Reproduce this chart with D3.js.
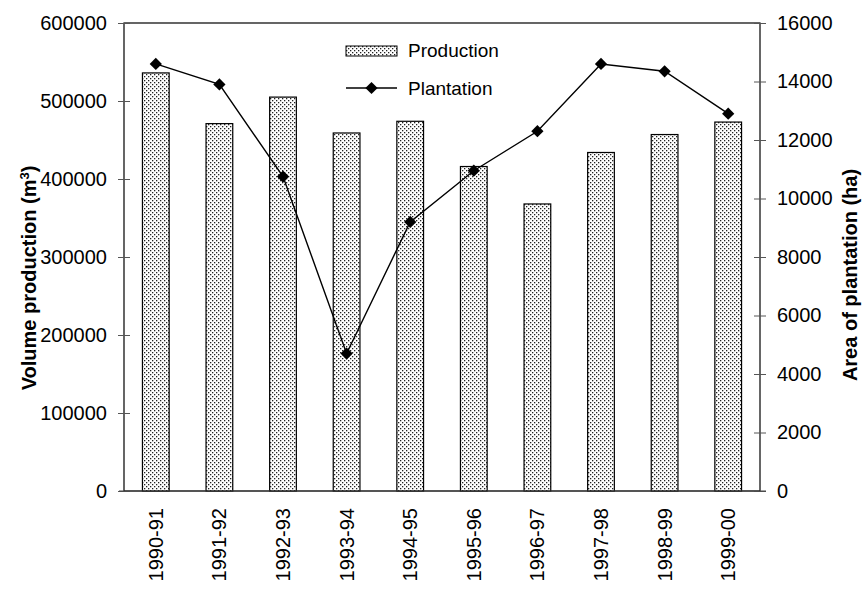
<!DOCTYPE html>
<html>
<head>
<meta charset="utf-8">
<script src="https://cdn.jsdelivr.net/npm/d3@7/dist/d3.min.js"></script>
<style>
  html, body { margin: 0; padding: 0; background: #fff; }
  svg { display: block; font-family: "Liberation Sans", Arial, sans-serif; }
</style>
</head>
<body>
<svg id="chart" width="866" height="589"></svg>
<script>
// Seasons on the x axis
const seasons = ["1990-91", "1991-92", "1992-93", "1993-94", "1994-95",
                 "1995-96", "1996-97", "1997-98", "1998-99", "1999-00"];
// Volume production (m³), left axis
const production = [536000, 471000, 505000, 459000, 474000,
                    416000, 368000, 434000, 457000, 473000];
// Area of plantation (ha), right axis
const plantation = [14600, 13900, 10750, 4700, 9200,
                    10950, 12300, 14600, 14350, 12900];
// Tick values
const leftTicks = [0, 100000, 200000, 300000, 400000, 500000, 600000];
const rightTicks = [0, 2000, 4000, 6000, 8000, 10000, 12000, 14000, 16000];

const svg = d3.select("#chart");
const plot = { left: 124, right: 760, top: 23, bottom: 491 };

const x = d3.scaleBand().domain(seasons).range([plot.left, plot.right]).paddingInner(0.58).paddingOuter(0.29);
const yL = d3.scaleLinear().domain([0, 600000]).range([plot.bottom, plot.top]);
const yR = d3.scaleLinear().domain([0, 16000]).range([plot.bottom, plot.top]);

// Dotted fill for the production bars
const defs = svg.append("defs");
const pat = defs.append("pattern").attr("id", "dots")
  .attr("patternUnits", "userSpaceOnUse").attr("width", 4).attr("height", 4);
pat.append("rect").attr("width", 4).attr("height", 4).attr("fill", "#fff");
pat.append("rect").attr("x", 0).attr("y", 0).attr("width", 1.3).attr("height", 1.3).attr("fill", "#222");
pat.append("rect").attr("x", 2).attr("y", 2).attr("width", 1.3).attr("height", 1.3).attr("fill", "#222");

// Plot frame
svg.append("rect")
  .attr("x", plot.left).attr("y", plot.top)
  .attr("width", plot.right - plot.left).attr("height", plot.bottom - plot.top)
  .attr("fill", "none").attr("stroke", "#000").attr("stroke-width", 1.2);

// Bars
svg.append("g").selectAll("rect").data(seasons).join("rect")
  .attr("x", d => x(d))
  .attr("y", (d, i) => yL(production[i]))
  .attr("width", x.bandwidth())
  .attr("height", (d, i) => yL(0) - yL(production[i]))
  .attr("fill", "url(#dots)")
  .attr("stroke", "#000").attr("stroke-width", 1.2);

// Left axis
const axL = svg.append("g").attr("transform", `translate(${plot.left},0)`)
  .call(d3.axisLeft(yL).tickValues(leftTicks).tickFormat(d3.format("d")).tickSize(6).tickPadding(11));
axL.select(".domain").remove();
axL.selectAll(".tick line").attr("x2", -6).attr("x1", 6).attr("stroke", "#555");
axL.selectAll(".tick text").attr("font-size", 20).attr("fill", "#000")
  .attr("font-family", "Liberation Sans, Arial, sans-serif");

// Right axis
const axR = svg.append("g").attr("transform", `translate(${plot.right},0)`)
  .call(d3.axisRight(yR).tickValues(rightTicks).tickFormat(d3.format("d")).tickSize(6).tickPadding(11));
axR.select(".domain").remove();
axR.selectAll(".tick line").attr("x1", -6).attr("x2", 6).attr("stroke", "#555");
axR.selectAll(".tick text").attr("font-size", 20).attr("fill", "#000")
  .attr("font-family", "Liberation Sans, Arial, sans-serif");

// Bottom axis line
svg.append("line").attr("x1", plot.left - 5).attr("x2", plot.right + 6)
  .attr("y1", plot.bottom).attr("y2", plot.bottom).attr("stroke", "#444").attr("stroke-width", 1.2);

// Category labels, rotated
svg.append("g").selectAll("text").data(seasons).join("text")
  .attr("transform", d => `translate(${x(d) + x.bandwidth() / 2},508) rotate(-90)`)
  .attr("text-anchor", "end").attr("dy", "0.35em")
  .attr("font-size", 20).text(d => d);

// Plantation line
const line = d3.line().x((d, i) => x(seasons[i]) + x.bandwidth() / 2).y(d => yR(d));
svg.append("path").datum(plantation)
  .attr("d", line).attr("fill", "none").attr("stroke", "#000").attr("stroke-width", 1.4);

const diamond = d3.symbol().type(d3.symbolDiamond2 || d3.symbolDiamond).size(95);
svg.append("g").selectAll("path").data(plantation).join("path")
  .attr("transform", (d, i) => `translate(${x(seasons[i]) + x.bandwidth() / 2},${yR(d)}) rotate(45)`)
  .attr("d", d3.symbol().type(d3.symbolSquare).size(75))
  .attr("fill", "#000");

// Axis titles
svg.append("text")
  .attr("transform", "translate(29,278) rotate(-90)")
  .attr("text-anchor", "middle").attr("dy", "0.35em")
  .attr("font-size", 20).attr("font-weight", "bold")
  .html('Volume production (m<tspan dy="-7" font-size="13">3</tspan><tspan dy="7">)</tspan>');
svg.append("text")
  .attr("transform", "translate(850,275) rotate(-90)")
  .attr("text-anchor", "middle").attr("dy", "0.35em")
  .attr("font-size", 20).attr("font-weight", "bold")
  .text("Area of plantation (ha)");

// Legend
const leg = svg.append("g");
leg.append("rect").attr("x", 346).attr("y", 46).attr("width", 51).attr("height", 10)
  .attr("fill", "url(#dots)").attr("stroke", "#000").attr("stroke-width", 1);
leg.append("text").attr("x", 408).attr("y", 57).attr("font-size", 19).text("Production");
leg.append("line").attr("x1", 346).attr("x2", 397).attr("y1", 88).attr("y2", 88)
  .attr("stroke", "#000").attr("stroke-width", 1.4);
leg.append("path").attr("transform", "translate(371.5,88) rotate(45)")
  .attr("d", d3.symbol().type(d3.symbolSquare).size(75)).attr("fill", "#000");
leg.append("text").attr("x", 408).attr("y", 95).attr("font-size", 19).text("Plantation");
</script>
</body>
</html>
